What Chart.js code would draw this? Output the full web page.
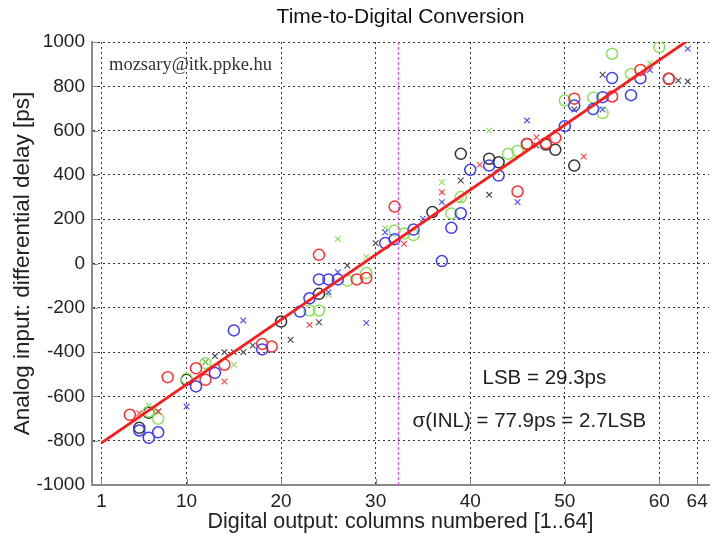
<!DOCTYPE html>
<html lang="en">
<head>
<meta charset="UTF-8">
<title>Time-to-Digital Conversion</title>
<script src="https://cdn.jsdelivr.net/npm/chart.js"></script>
<style>
  body { margin: 0; background: #fff; }
  .wrap { width: 716px; height: 538px; }
</style>
</head>
<body>
<div class="wrap"><canvas id="tdc" width="716" height="538"></canvas></div>
<script>
// tick labels on the column axis
const xTicks = [1, 10, 20, 30, 40, 50, 60, 64];

// measured points, one pair of arrays per colour / marker
const blueCircleX = [5, 6, 7, 11, 13, 15, 18, 22, 23, 24, 25, 26, 31, 32, 34, 37, 38, 39, 40, 42, 43, 50, 51, 53, 54, 55, 57, 58];
const blueCircleY = [-754, -787, -762, -555, -494, -302, -388, -217, -157, -72, -72, -72, 92, 110, 153, 11, 161, 227, 423, 442, 397, 620, 713, 697, 751, 837, 760, 836];
const blueCrossX = [10, 16, 25, 26, 29, 31, 35, 37, 45, 46, 54, 59, 63];
const blueCrossY = [-646, -257, -130, -39, -268, 141, 202, 277, 277, 646, 695, 874, 969];

const redCircleX = [4, 8, 11, 12, 14, 18, 19, 24, 28, 29, 32, 45, 46, 48, 49, 51, 55, 58, 61];
const redCircleY = [-683, -513, -473, -525, -457, -363, -375, 39, -72, -66, 257, 325, 540, 543, 567, 744, 754, 874, 834];
const redCrossX = [5, 7, 14, 23, 33, 37, 41, 47, 52];
const redCrossY = [-676, -668, -533, -277, 89, 322, 446, 570, 483];

const greenCircleX = [6, 7, 10, 12, 23, 24, 27, 29, 32, 33, 34, 38, 39, 44, 45, 50, 53, 54, 55, 57, 60];
const greenCircleY = [-668, -701, -520, -450, -212, -212, -77, -43, 149, 135, 128, 226, 300, 495, 508, 736, 749, 679, 947, 856, 977];
const greenCrossX = [6, 12, 15, 25, 26, 29, 31, 37, 39, 42, 59];
const greenCrossY = [-641, -445, -457, -141, 111, 30, 160, 367, 284, 600, 904];

const blackCircleX = [5, 6, 10, 20, 24, 36, 39, 42, 43, 46, 48, 49, 51, 61];
const blackCircleY = [-742, -674, -525, -262, -137, 232, 495, 473, 457, 540, 537, 513, 442, 834];
const blackCrossX = [7, 12, 13, 14, 15, 16, 17, 21, 24, 27, 30, 39, 42, 47, 51, 54, 62, 63];
const blackCrossY = [-668, -445, -418, -400, -400, -400, -370, -344, -265, -9, 92, 375, 310, 533, 695, 852, 826, 822];

// linear fit (LSB = 29.3ps) and the middle column marker
const fitX = [1, 64];
const fitY = [-810, 1036];
const splitColumn = 32.4;
const splitY = [-1000, 1000];

const FONT = "'Liberation Sans', Arial, sans-serif";

function pts(xs, ys) {
    return xs.map((x, i) => ({ x: x, y: ys[i] }));
}

function markers(label, xs, ys, color, style) {
    const circle = style === 'circle';
    return {
        type: 'scatter',
        label: label,
        data: pts(xs, ys),
        pointStyle: style,
        pointRadius: circle ? 5.5 : 4,
        borderColor: color,
        backgroundColor: 'rgba(0,0,0,0)',
        pointBorderWidth: circle ? 1.5 : 1.1,
        order: 2
    };
}

// text notes + MATLAB-style inward ticks
const notes = {
    id: 'notes',
    afterDraw(chart) {
        const ctx = chart.ctx;
        const xs = chart.scales.x, ys = chart.scales.y;
        const area = chart.chartArea;
        ctx.save();

        ctx.strokeStyle = '#888';
        ctx.lineWidth = 1;
        ctx.beginPath();
        ys.ticks.forEach(t => {
            const py = Math.round(ys.getPixelForValue(t.value)) + 0.5;
            ctx.moveTo(area.left, py);
            ctx.lineTo(area.left + 6, py);
        });
        xTicks.forEach(v => {
            const px = Math.round(xs.getPixelForValue(v)) + 0.5;
            ctx.moveTo(px, area.bottom);
            ctx.lineTo(px, area.bottom - 6);
        });
        ctx.stroke();

        ctx.fillStyle = '#333';
        ctx.textBaseline = 'middle';
        ctx.textAlign = 'left';
        ctx.font = "18.5px 'Liberation Serif', 'Times New Roman', serif";
        ctx.fillText('mozsary@itk.ppke.hu', xs.getPixelForValue(1.8), ys.getPixelForValue(894));

        ctx.fillStyle = '#222';
        ctx.font = '20.5px ' + FONT;
        ctx.fillText('LSB = 29.3ps', xs.getPixelForValue(41.3), ys.getPixelForValue(-519));
        ctx.fillText('\u03c3(INL) = 77.9ps = 2.7LSB', xs.getPixelForValue(33.9), ys.getPixelForValue(-713));
        ctx.restore();
    }
};

new Chart(document.getElementById('tdc'), {
    type: 'scatter',
    data: {
        datasets: [
            {
                type: 'line',
                label: 'fit',
                data: pts(fitX, fitY),
                borderColor: '#ff1a1a',
                borderWidth: 2.8,
                pointRadius: 0,
                clip: 0,
                order: 0
            },
            {
                type: 'line',
                label: 'middle',
                data: pts(splitY.map(() => splitColumn), splitY),
                borderColor: '#e23ee2',
                borderWidth: 1,
                borderDash: [3, 2],
                pointRadius: 0,
                order: 1
            },
            markers('blue o', blueCircleX, blueCircleY, '#3d3dff', 'circle'),
            markers('blue x', blueCrossX, blueCrossY, '#4d4dff', 'crossRot'),
            markers('red o', redCircleX, redCircleY, '#ff3030', 'circle'),
            markers('red x', redCrossX, redCrossY, '#ff4040', 'crossRot'),
            markers('green o', greenCircleX, greenCircleY, '#8ce25e', 'circle'),
            markers('green x', greenCrossX, greenCrossY, '#8ce25e', 'crossRot'),
            markers('black o', blackCircleX, blackCircleY, '#333333', 'circle'),
            markers('black x', blackCrossX, blackCrossY, '#444444', 'crossRot')
        ]
    },
    options: {
        responsive: false,
        animation: false,
        layout: { padding: 0 },
        plugins: {
            legend: { display: false },
            tooltip: { enabled: false },
            title: {
                display: true,
                text: 'Time-to-Digital Conversion',
                fullSize: false,
                color: '#111',
                font: { family: FONT, size: 21, weight: 'normal' },
                padding: { top: 4.4, bottom: 12.4 }
            }
        },
        scales: {
            x: {
                type: 'linear',
                min: 0,
                max: 65.25,
                afterBuildTicks: axis => { axis.ticks = xTicks.map(v => ({ value: v })); },
                afterFit: scale => { scale.height = 53; },
                ticks: {
                    autoSkip: false,
                    maxRotation: 0,
                    padding: 5,
                    color: '#222',
                    font: { family: FONT, size: 19 },
                    callback: v => String(v)
                },
                grid: {
                    color: '#333',
                    lineWidth: 1,
                    drawTicks: false
                },
                border: { display: true, color: '#8a8a8a', width: 2, dash: [2, 3] },
                title: {
                    display: true,
                    text: 'Digital output: columns numbered [1..64]',
                    color: '#222',
                    font: { family: FONT, size: 21.5 },
                    padding: { top: 0, bottom: 3 }
                }
            },
            y: {
                min: -1000,
                max: 1000,
                afterFit: scale => { scale.width = 92; },
                ticks: {
                    stepSize: 200,
                    padding: 7,
                    color: '#222',
                    font: { family: FONT, size: 19 },
                    callback: v => String(v)
                },
                grid: {
                    color: '#333',
                    lineWidth: 1,
                    drawTicks: false
                },
                border: { display: true, color: '#8a8a8a', width: 2, dash: [2, 3] },
                title: {
                    display: true,
                    text: 'Analog input: differential delay [ps]',
                    color: '#222',
                    font: { family: FONT, size: 22.5 },
                    padding: { top: 9, bottom: 0 }
                }
            }
        }
    },
    plugins: [notes]
});
</script>
</body>
</html>
